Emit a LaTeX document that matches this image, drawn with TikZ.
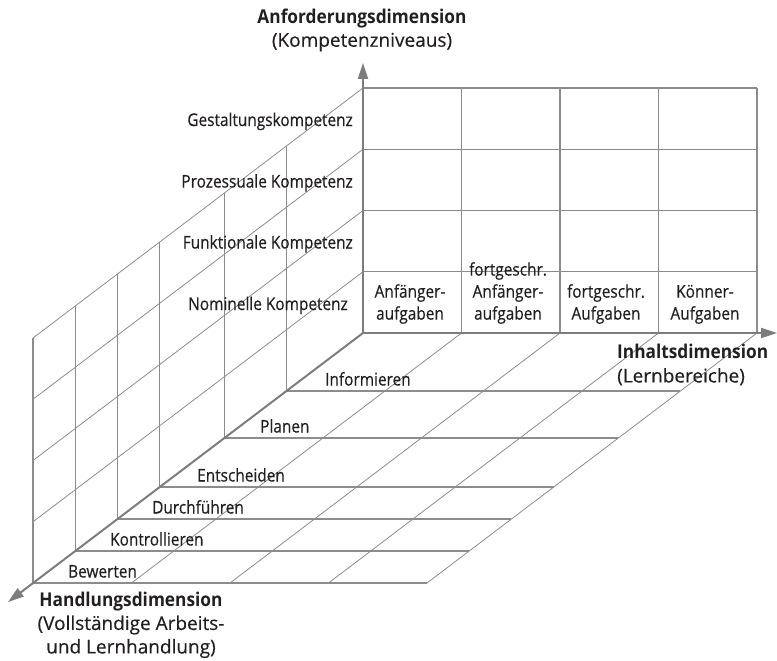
\documentclass[tikz,border=0pt]{standalone}
\usepackage{fontspec}
\setmainfont{Open Sans}[FakeBold=0.3]
\newfontfamily\condfont[FakeStretch=0.88,FakeBold=0.4]{Open Sans}
\newfontfamily\axbfont[FakeStretch=0.91]{Open Sans}
\usetikzlibrary{arrows.meta}
\definecolor{gridgray}{RGB}{140,140,140}
\definecolor{axisgray}{RGB}{125,125,125}
\definecolor{txt}{RGB}{35,31,32}
\begin{document}
\begin{tikzpicture}[x=1pt,y=-1pt,
  gridline/.style={draw=gridgray,line width=1.1pt},
  diagline/.style={draw=gridgray,line width=0.8pt},
  axis/.style={draw=axisgray,line width=2pt,-{Triangle[length=16pt,width=10pt]}},
  inlabel/.style={font=\condfont\fontsize{17.5}{22}\selectfont,text=txt,inner sep=0pt},
  axlabel/.style={font=\fontsize{19}{23.5}\selectfont,text=txt,inner sep=0pt,align=center},
]
\useasboundingbox (0,0) rectangle (777,661);
\coordinate (O) at (363,333);
\coordinate (ytip) at (363,63);
\coordinate (xtip) at (777,333);
\coordinate (ztip) at (8,602);

% back wall (contents x competence)
\foreach \i in {1,...,4}{
  \draw[gridline] (363,333-\i*61.25) coordinate (wl\i) -- (757,333-\i*61.25) coordinate (wr\i);
  \draw[gridline] (363+\i*98.5,333) coordinate (wb\i) -- (363+\i*98.5,88) coordinate (wt\i);
}
% left wall (action x competence)
\foreach \i in {1,...,4}{
  \draw[diagline] (wl\i) -- (33,583-\i*61.25);
}
\foreach \t in {0.232,0.42,0.616,0.744,0.872,1}{
  \draw[gridline] (363-330*\t,333+250*\t) -- (363-330*\t,88+250*\t);
}
% floor (action x contents)
\foreach \t in {0.232,0.42,0.616,0.744,0.872,1}{
  \draw[gridline] (363-330*\t,333+250*\t) -- (757-330*\t,333+250*\t);
}
\foreach \i in {1,...,4}{
  \draw[diagline] (wb\i) -- (33+\i*98.5,583);
}
% axes
\draw[axis] (O) -- (ytip);
\draw[axis] (O) -- (xtip);
\draw[axis] (O) -- (ztip);

% competence labels
\node[inlabel,anchor=base east] (k4) at (353,126) {Gestaltungskompetenz};
\node[inlabel,anchor=base east] (k3) at (353,187.5) {Prozessuale Kompetenz};
\node[inlabel,anchor=base east] (k2) at (353,248.5) {Funktionale Kompetenz};
\node[inlabel,anchor=base east] (k1) at (348,310) {Nominelle Kompetenz};

% content labels
\node[inlabel,align=center,anchor=south] (c1) at (410,324) {Anfänger-\\aufgaben};
\node[inlabel,align=center,anchor=south] (c2) at (508,324) {fortgeschr.\\Anfänger-\\aufgaben};
\node[inlabel,align=center,anchor=south] (c3) at (606,324) {fortgeschr.\\Aufgaben};
\node[inlabel,align=center,anchor=south] (c4) at (705,324) {Könner-\\Aufgaben};

% action labels
\node[inlabel,anchor=base west] (h1) at (325,385.5) {Informieren};
\node[inlabel,anchor=base west] (h2) at (260,432.5) {Planen};
\node[inlabel,anchor=base west] (h3) at (197,481.5) {Entscheiden};
\node[inlabel,anchor=base west] (h4) at (152,513.5) {Durchführen};
\node[inlabel,anchor=base west] (h5) at (110,545.5) {Kontrollieren};
\node[inlabel,anchor=base west] (h6) at (68,577.5) {Bewerten};

% axis labels
\node[axlabel] (ylab) at (362,30) {{\axbfont\bfseries Anforderungsdimension}\\(Kompetenzniveaus)};
\node[axlabel,align=left,anchor=west] (xlab) at (617,365) {{\axbfont\bfseries Inhaltsdimension}\\(Lernbereiche)};
\node[axlabel] (zlab) at (131,625) {{\axbfont\bfseries Handlungsdimension}\\(Vollständige Arbeits-\\und Lernhandlung)};
\end{tikzpicture}
\end{document}
